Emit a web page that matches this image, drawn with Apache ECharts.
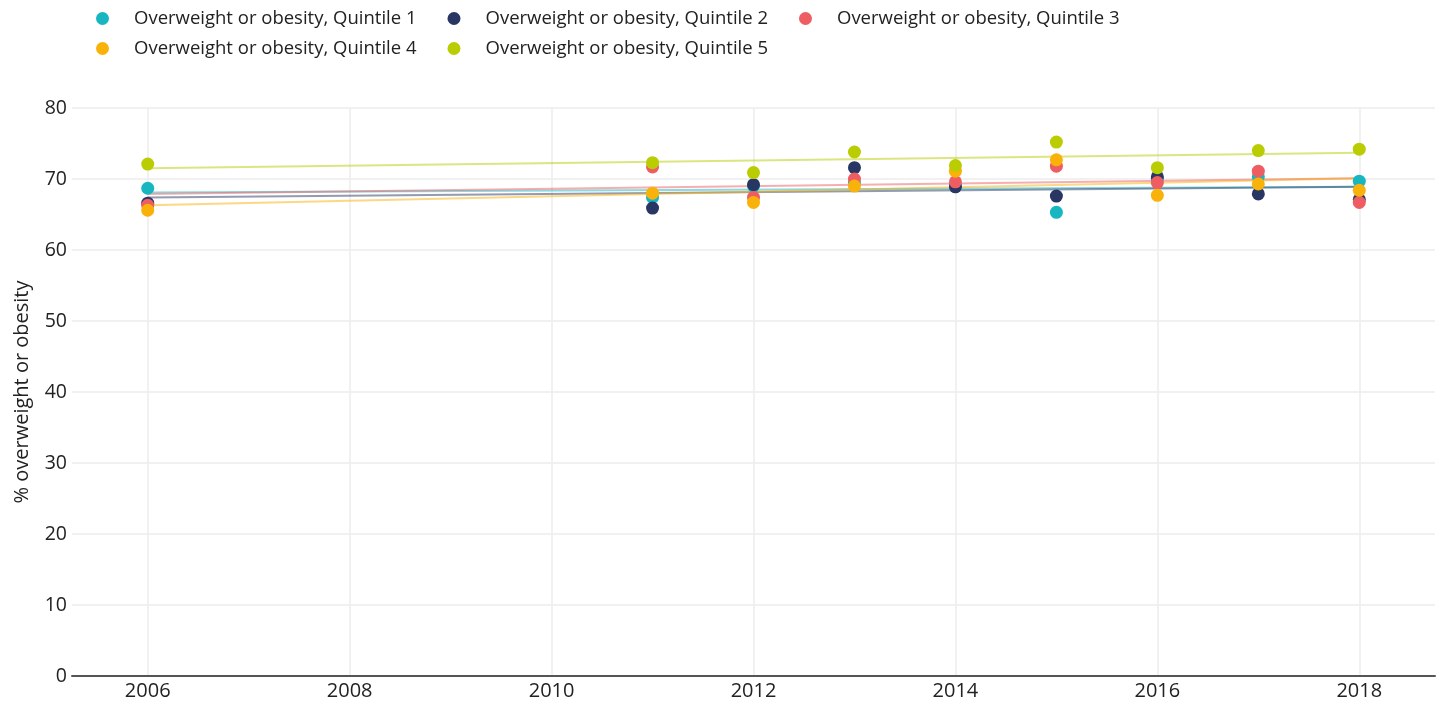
<!DOCTYPE html>
<html>
<head>
<meta charset="utf-8">
<script src="https://cdn.jsdelivr.net/npm/echarts@6/dist/echarts.min.js"></script>
<style>
  html, body { margin: 0; padding: 0; background: #fff; }
  #chart { width: 1443px; height: 704px; }
</style>
</head>
<body>
<div id="chart"></div>
<script>
const years = [2006, 2011, 2012, 2013, 2014, 2015, 2016, 2017, 2018];
const seriesNames = [
  'Overweight or obesity, Quintile 1',
  'Overweight or obesity, Quintile 2',
  'Overweight or obesity, Quintile 3',
  'Overweight or obesity, Quintile 4',
  'Overweight or obesity, Quintile 5'
];
const colors = ['#17b6c0', '#283663', '#ee5d61', '#f9b20a', '#bacd02'];

const q1 = [68.7, 67.4, 69.0, 69.5, 69.0, 65.3, 70.0, 70.3, 69.7];
const q2 = [66.6, 65.9, 69.2, 71.6, 68.9, 67.6, 70.3, 67.9, 67.1];
const q3 = [66.3, 71.7, 67.4, 70.0, 69.6, 71.8, 69.5, 71.1, 66.7];
const q4 = [65.6, 68.0, 66.7, 69.0, 71.1, 72.7, 67.7, 69.3, 68.4];
const q5 = [72.1, 72.3, 70.9, 73.8, 71.9, 75.2, 71.6, 74.0, 74.2];

// trend line end points (2006, 2018)
const trendYears = [2006, 2018];
const trend1 = [68.1, 68.9];
const trend2 = [67.4, 68.9];
const trend3 = [67.9, 70.1];
const trend4 = [66.3, 70.1];
const trend5 = [71.5, 73.7];

const xTicks = [2006, 2008, 2010, 2012, 2014, 2016, 2018];

const values = [q1, q2, q3, q4, q5];
const trends = [trend1, trend2, trend3, trend4, trend5];

const font = '"Open Sans", sans-serif';
const chart = echarts.init(document.getElementById('chart'));

const series = [];
trends.forEach((t, i) => {
  series.push({
    name: seriesNames[i],
    type: 'line',
    data: trendYears.map((y, k) => [y, t[k]]),
    showSymbol: false,
    symbol: 'none',
    lineStyle: { color: colors[i], width: 2, opacity: 0.5 },
    itemStyle: { color: colors[i] },
    silent: true,
    z: 1
  });
});
values.forEach((v, i) => {
  series.push({
    name: seriesNames[i],
    type: 'scatter',
    data: years.map((y, k) => [y, v[k]]),
    symbolSize: 13,
    itemStyle: { color: colors[i], opacity: 1 },
    z: 3
  });
});

function legendRow(names, top) {
  return {
    data: names.map(n => ({ name: n, icon: 'circle', itemStyle: { color: colors[seriesNames.indexOf(n)] } })),
    left: 91,
    top: top,
    itemWidth: 13,
    itemHeight: 13,
    itemGap: 31,
    textStyle: { fontSize: 18.5, color: '#222', fontFamily: font, padding: [0, 0, 0, 20] },
    selectedMode: false
  };
}

chart.setOption({
  backgroundColor: '#fff',
  animation: false,
  textStyle: { fontFamily: font },
  legend: [
    legendRow(seriesNames.slice(0, 3), 4),
    legendRow(seriesNames.slice(3), 34)
  ],
  grid: { left: 72, right: 8, top: 108, bottom: 28, containLabel: false, outerBoundsMode: 'none' },
  xAxis: {
    type: 'value',
    min: 2005.25,
    max: 2018.75,
    axisLine: { show: true, lineStyle: { color: '#555', width: 2 } },
    axisTick: { show: false, customValues: xTicks },
    axisLabel: { customValues: xTicks, formatter: v => String(v), fontSize: 20, color: '#222', margin: 5, fontFamily: font },
    splitLine: { show: true, lineStyle: { color: '#ececec', width: 1.5 } }
  },
  yAxis: {
    type: 'value',
    min: 0,
    max: 80,
    interval: 10,
    name: '% overweight or obesity',
    nameLocation: 'middle',
    nameGap: 40,
    nameTextStyle: { fontSize: 20, color: '#222', fontFamily: font },
    axisLine: { show: false },
    axisTick: { show: false },
    axisLabel: { fontSize: 19.5, color: '#222', margin: 5, fontFamily: font },
    splitLine: { lineStyle: { color: '#ececec', width: 1.5 } }
  },
  series: series
});
</script>
</body>
</html>
